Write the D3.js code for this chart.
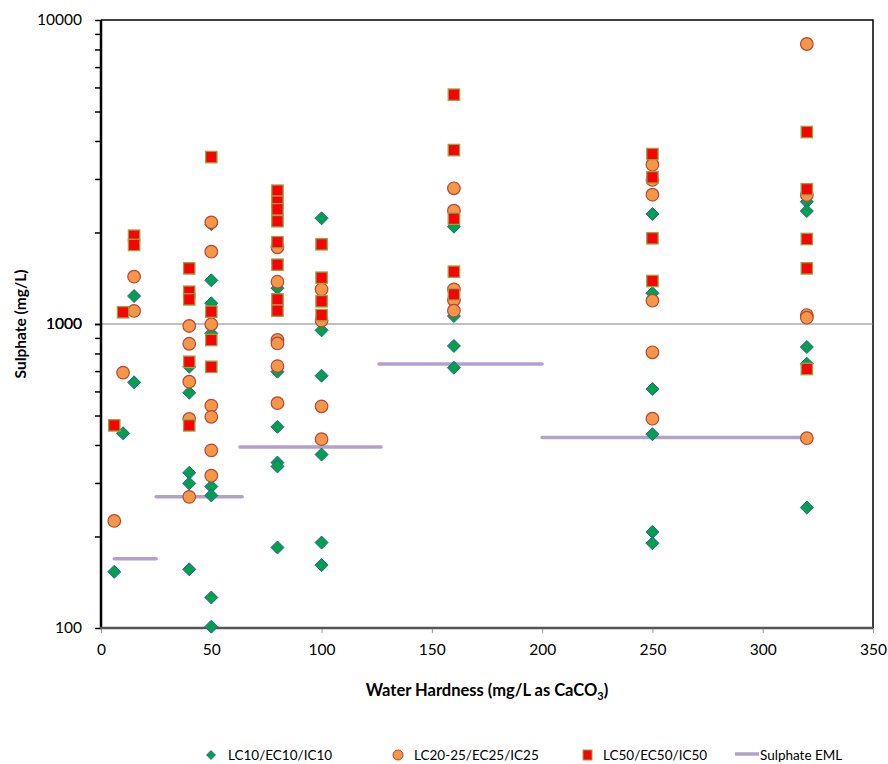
<!DOCTYPE html>
<html>
<head>
<meta charset="utf-8">
<script src="https://cdn.jsdelivr.net/npm/d3@7"></script>
<style>
  html, body { margin: 0; padding: 0; background: #fff; }
  svg { display: block; font-family: Lato, "Open Sans", sans-serif; }
</style>
</head>
<body>
<svg id="chart" width="888" height="764"></svg>
<script>
// ---- data (hardness mg/L as CaCO3, sulphate mg/L) ----
const lc10 = [
  [6,153],[10,437],[15,1236],[15,643],
  [40,723],[40,594],[40,324],[40,299],[40,156],
  [50,2130],[50,1392],[50,1170],[50,931],[50,292],[50,273],[50,126],[50,101],
  [80,1311],[80,697],[80,459],[80,350],[80,340],[80,184],
  [100,2227],[100,953],[100,676],[100,372],[100,191],[100,161],
  [160,2090],[160,1199],[160,1062],[160,847],[160,718],
  [250,2301],[250,1262],[250,611],[250,434],[250,207],[250,190],
  [320,2525],[320,2353],[320,840],[320,740],[320,249]
];
const lc25 = [
  [6,225],[10,692],[15,1431],[15,1104],
  [40,985],[40,861],[40,646],[40,487],[40,270],
  [50,2160],[50,1729],[50,998],[50,539],[50,495],[50,384],[50,317],
  [80,1788],[80,1377],[80,886],[80,863],[80,727],[80,549],
  [100,1300],[100,1026],[100,536],[100,418],
  [160,2795],[160,2358],[160,1300],[160,1199],[160,1106],
  [250,3342],[250,2977],[250,2662],[250,1193],[250,807],[250,488],
  [320,8338],[320,2657],[320,1070],[320,1049],[320,421]
];
const lc50 = [
  [6,464],[10,1093],[15,1952],[15,1820],
  [40,1524],[40,1277],[40,1205],[40,751],[40,464],
  [50,3540],[50,1098],[50,886],[50,723],
  [80,2745],[80,2525],[80,2384],[80,2178],[80,1858],[80,1567],[80,1205],[80,1106],
  [100,1829],[100,1420],[100,1188],[100,1070],
  [160,5680],[160,3733],[160,2220],[160,1486],[160,1252],
  [250,3622],[250,3038],[250,1914],[250,1385],
  [320,4280],[320,2775],[320,1904],[320,1524],[320,711]
];
const emlStart = [6, 25, 63, 126, 200];
const emlEnd   = [25, 64, 127, 200, 320];
const emlValue = [169, 270, 394, 738, 423];

const xTicks = [0, 50, 100, 150, 200, 250, 300, 350];
const yMajor = [100, 1000, 10000];
const legendLabels = ["LC10/EC10/IC10", "LC20-25/EC25/IC25", "LC50/EC50/IC50", "Sulphate EML"];

// ---- layout ----
const svg = d3.select("#chart");
const L = 101, R = 873, T = 20, B = 628;
const x = d3.scaleLinear().domain([0, 350]).range([L, R]);
const y = d3.scaleLog().domain([100, 10000]).range([B, T]);

// frame top / right
svg.append("path")
  .attr("d", `M${L},${T}H${R}V${B}`)
  .attr("fill", "none").attr("stroke", "#000").attr("stroke-width", 1.5);

// gridline at 1000
svg.append("line")
  .attr("x1", L).attr("x2", R).attr("y1", y(1000)).attr("y2", y(1000))
  .attr("stroke", "#808080").attr("stroke-width", 1);

// y axis
const minorTicks = [];
[100, 1000].forEach(d => { for (let k = 1; k <= 10; k++) minorTicks.push(d * k); });
const yAxis = d3.axisLeft(y).tickValues(minorTicks).tickSize(6)
  .tickFormat(d => yMajor.includes(d) ? String(d) : "");
const gy = svg.append("g").attr("transform", `translate(${L},0)`).call(yAxis);
gy.select(".domain").remove();
gy.selectAll(".tick line").attr("stroke", "#000").attr("stroke-width", 1.5);
gy.selectAll(".tick text").attr("font-size", 15.5).attr("fill", "#000")
  .attr("font-family", "Lato, sans-serif").attr("x", -19);
svg.append("line").attr("x1", L).attr("x2", L).attr("y1", T).attr("y2", B + 1)
  .attr("stroke", "#000").attr("stroke-width", 2.5);

// x axis
const xAxis = d3.axisBottom(x).tickValues(xTicks).tickSize(5).tickFormat(d3.format("d"));
const gx = svg.append("g").attr("transform", `translate(0,${B})`).call(xAxis);
gx.select(".domain").remove();
gx.selectAll(".tick line").attr("stroke", "#9a9a9a").attr("stroke-width", 1);
gx.selectAll(".tick text").attr("font-size", 15.5).attr("fill", "#000")
  .attr("font-family", "Lato, sans-serif").attr("y", 16);
svg.append("line").attr("x1", L - 1).attr("x2", R).attr("y1", B).attr("y2", B)
  .attr("stroke", "#555").attr("stroke-width", 2.5);

// axis titles
const xt = svg.append("text").attr("x", (L + R) / 2 + 0).attr("y", 696)
  .attr("text-anchor", "middle").attr("font-size", 16.5).attr("font-weight", "bold")
  .attr("fill", "#000");
xt.append("tspan").text("Water Hardness (mg/L as CaCO");
xt.append("tspan").text("3").attr("font-size", 11).attr("dy", 4);
xt.append("tspan").text(")").attr("dy", -4);

svg.append("text")
  .attr("transform", `translate(26,${(T + B) / 2}) rotate(-90)`)
  .attr("text-anchor", "middle").attr("font-size", 15.5).attr("font-weight", "bold")
  .attr("fill", "#000").text("Sulphate (mg/L)");

// EML lines
const eml = emlStart.map((s, i) => ({ s, e: emlEnd[i], v: emlValue[i] }));
svg.append("g").selectAll("line").data(eml).join("line")
  .attr("x1", d => x(d.s)).attr("x2", d => x(d.e))
  .attr("y1", d => y(d.v)).attr("y2", d => y(d.v))
  .attr("stroke", "#b3a2c7").attr("stroke-width", 3.5).attr("stroke-linecap", "round");

// markers
function drawDiamond(g, cx, cy, s) {
  return g.append("path")
    .attr("d", `M${cx},${cy - s}L${cx + s},${cy}L${cx},${cy + s}L${cx - s},${cy}Z`);
}
const gD = svg.append("g");
lc10.forEach(d => drawDiamond(gD, x(d[0]), y(d[1]), 6.5)
  .attr("fill", "#00a04f").attr("stroke", "#2f5e9a").attr("stroke-width", 1));

svg.append("g").selectAll("circle").data(lc25).join("circle")
  .attr("cx", d => x(d[0])).attr("cy", d => y(d[1])).attr("r", 6.3)
  .attr("fill", "#f79646").attr("stroke", "#b0483a").attr("stroke-width", 1.2);

svg.append("g").selectAll("rect").data(lc50).join("rect")
  .attr("x", d => x(d[0]) - 5.7).attr("y", d => y(d[1]) - 5.7)
  .attr("width", 11.4).attr("height", 11.4)
  .attr("fill", "#ff0000").attr("stroke", "#8fa84a").attr("stroke-width", 1.3);

// legend
const ly = 755;
const lg = svg.append("g").attr("font-size", 13.5).attr("fill", "#000");
drawDiamond(lg, 211, ly, 4.5).attr("fill", "#00a04f").attr("stroke", "#2f5e9a").attr("stroke-width", 0.8);
lg.append("text").attr("x", 228).attr("y", ly + 4.5).text(legendLabels[0]);
lg.append("circle").attr("cx", 398).attr("cy", ly).attr("r", 5)
  .attr("fill", "#f79646").attr("stroke", "#b0483a").attr("stroke-width", 1);
lg.append("text").attr("x", 414).attr("y", ly + 4.5).text(legendLabels[1]);
lg.append("rect").attr("x", 583).attr("y", ly - 5).attr("width", 9).attr("height", 10)
  .attr("fill", "#ff0000").attr("stroke", "#8fa84a").attr("stroke-width", 1);
lg.append("text").attr("x", 603).attr("y", ly + 4.5).text(legendLabels[2]);
lg.append("line").attr("x1", 735).attr("x2", 759).attr("y1", ly - 1).attr("y2", ly - 1)
  .attr("stroke", "#b3a2c7").attr("stroke-width", 3.5);
lg.append("text").attr("x", 760).attr("y", ly + 4.5).text(legendLabels[3]);
</script>
</body>
</html>
